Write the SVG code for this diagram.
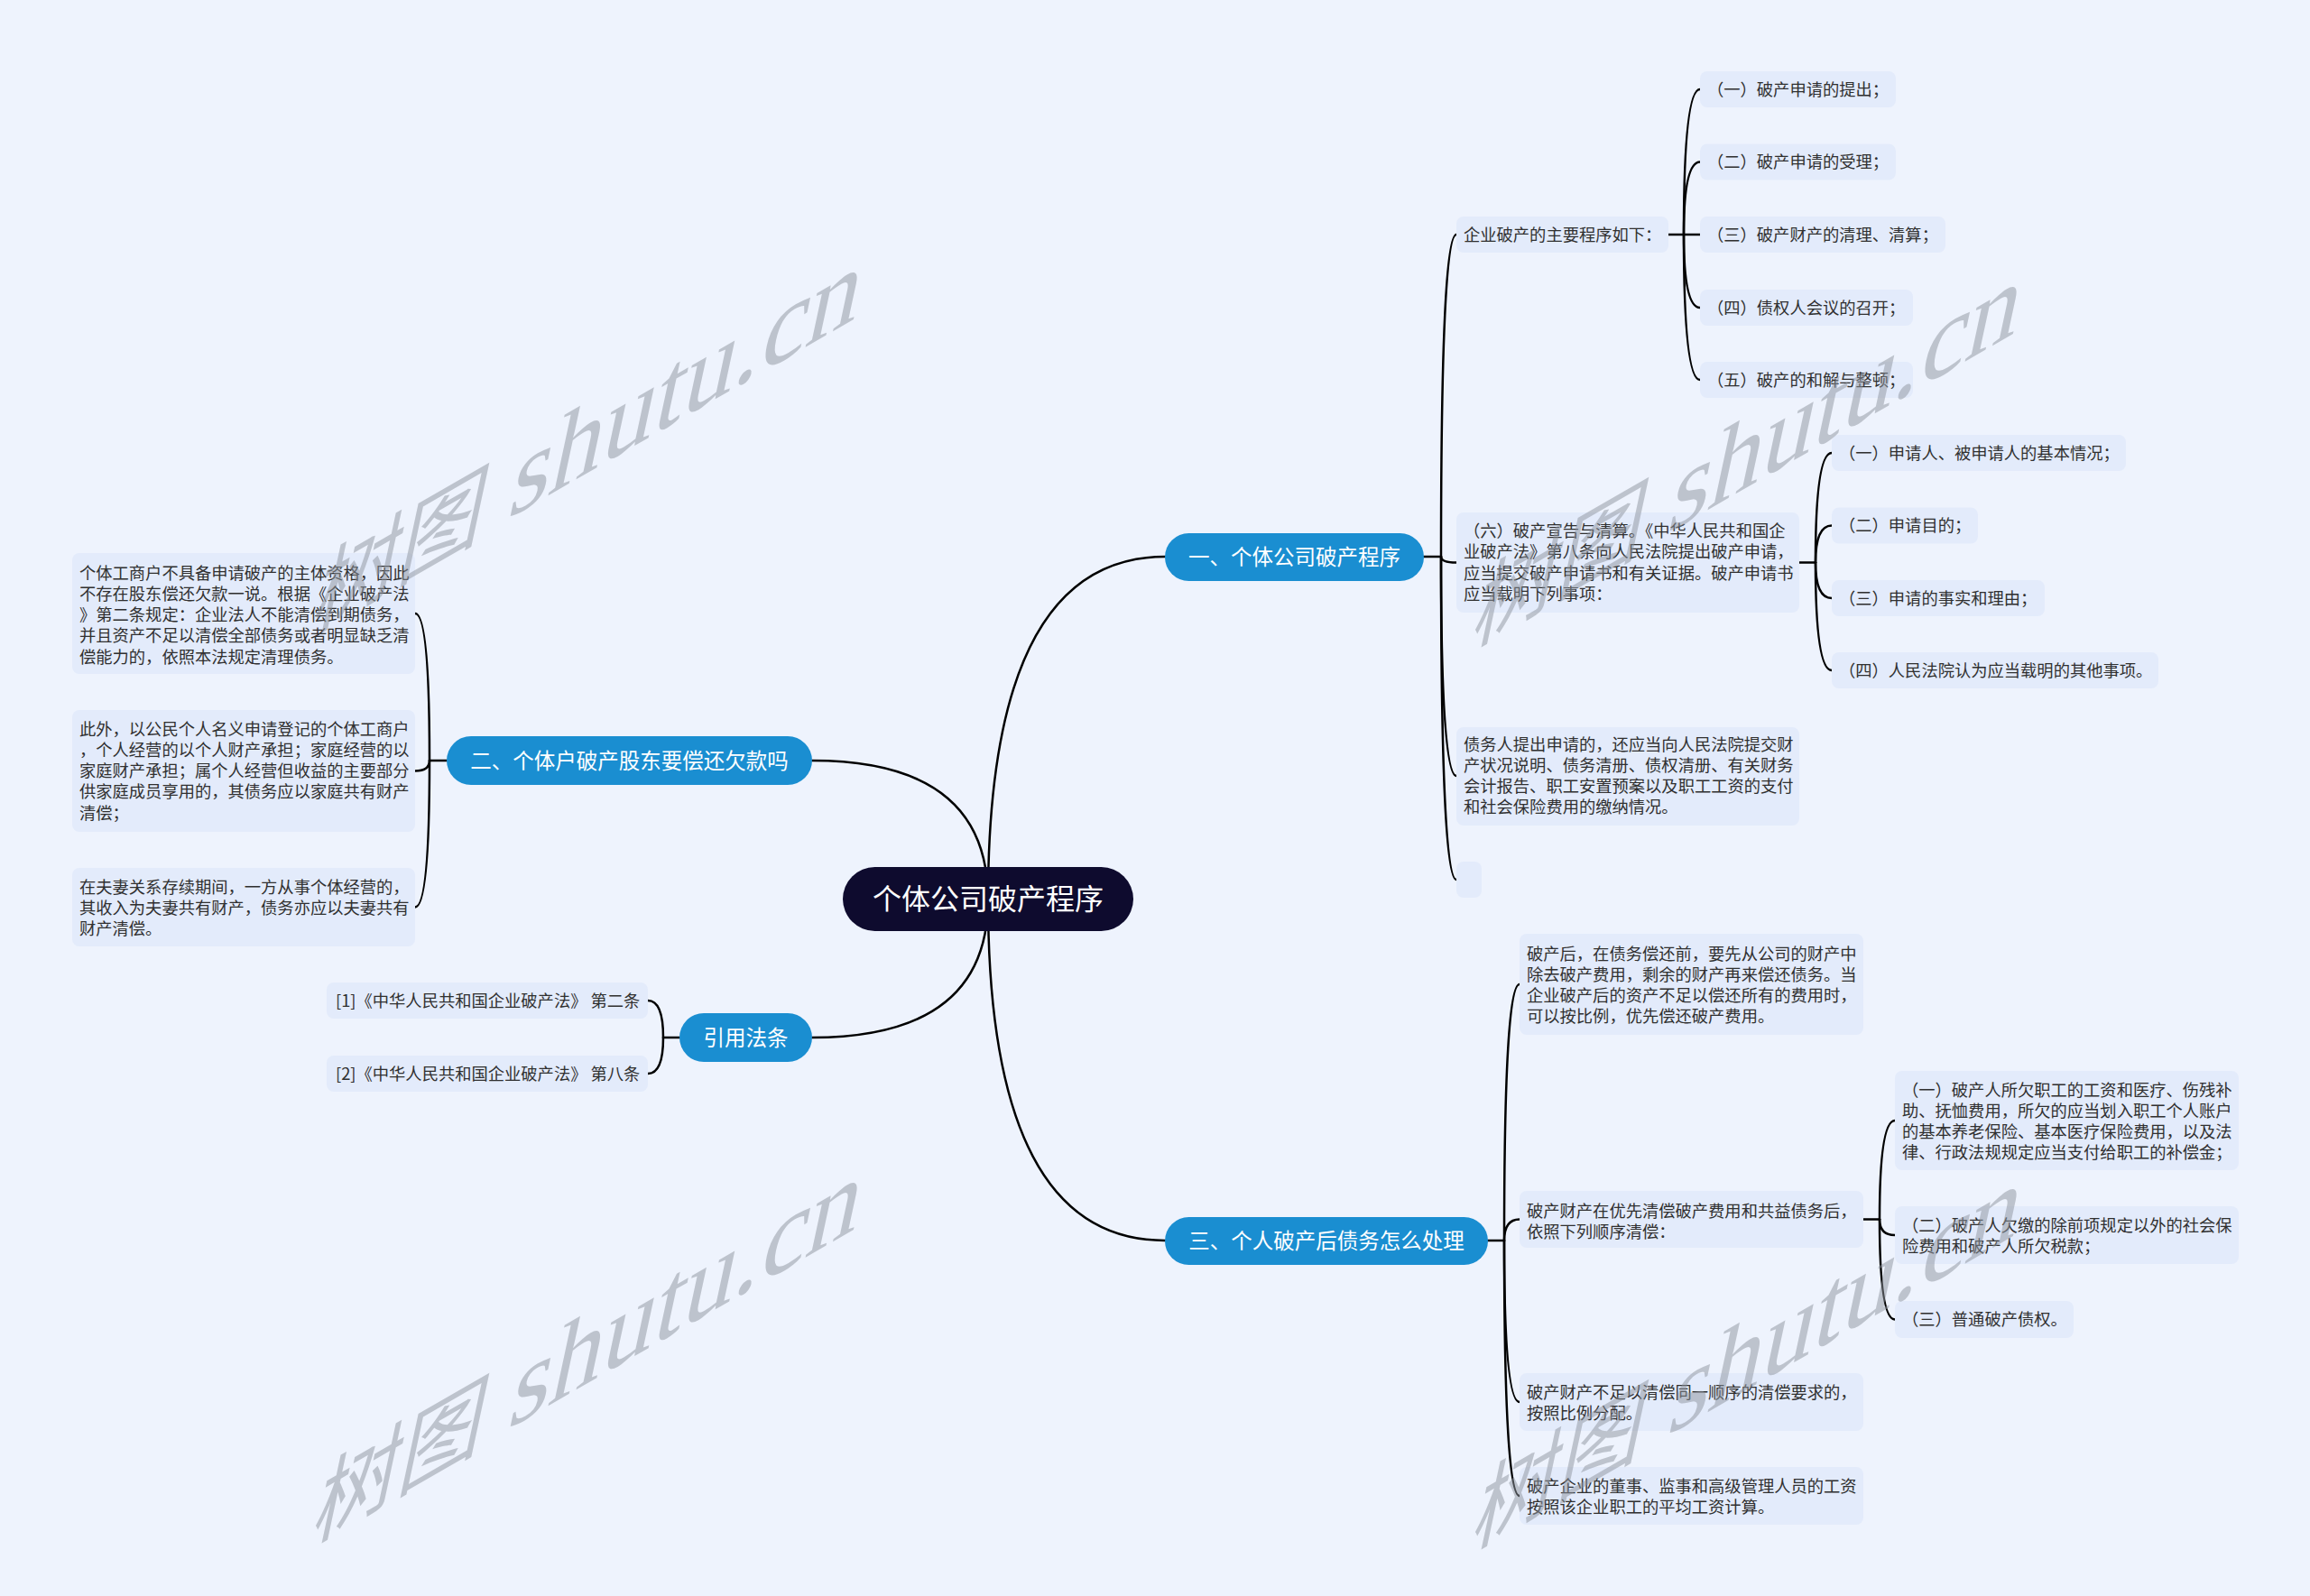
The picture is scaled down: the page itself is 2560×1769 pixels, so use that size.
<svg xmlns="http://www.w3.org/2000/svg" width="2560" height="1769" viewBox="0 0 2560 1769">
<style>
.bg{fill:#EEF3FD}
.box{fill:#E3EBFB}
.t{font-family:"Noto Sans CJK SC","Noto Sans",sans-serif;font-size:18.3px;fill:#303030}
.br{fill:#1A8ED1}
.bt{font-family:"Noto Sans CJK SC","Noto Sans",sans-serif;font-size:23.5px;fill:#FFFFFF;text-anchor:middle}
.rt{font-family:"Noto Sans CJK SC","Noto Sans",sans-serif;font-size:32px;fill:#FFFFFF;text-anchor:middle}
.ln{fill:none;stroke:#000;stroke-width:2.5;stroke-linecap:round}
.wm{font-family:"Liberation Serif","Noto Sans CJK SC",serif;fill:#8E949E;opacity:0.5}
</style>
<rect class="bg" x="0" y="0" width="2560" height="1769"/>

<g id="connectors">
  <path class="ln" d="M1095,997 Q1095,617 1291,617"/>
  <path class="ln" d="M1095,997 Q1095,843 900,843"/>
  <path class="ln" d="M1095,997 Q1095,1375 1291,1375"/>
  <path class="ln" d="M1095,997 Q1095,1150 900,1150"/>

  <path class="ln" d="M1578,617 H1597"/>
  <path class="ln" d="M1597,617 Q1597,260 1614,260"/>
  <path class="ln" d="M1597,617 Q1597,623.5 1614,623.5"/>
  <path class="ln" d="M1597,617 Q1597,860 1614,860"/>
  <path class="ln" d="M1597,617 Q1597,975 1614,975"/>

  <path class="ln" d="M1849,260 H1866"/>
  <path class="ln" d="M1866,260 Q1866,99 1884,99"/>
  <path class="ln" d="M1866,260 Q1866,179.5 1884,179.5"/>
  <path class="ln" d="M1866,260 L1884,260"/>
  <path class="ln" d="M1866,260 Q1866,341 1884,341"/>
  <path class="ln" d="M1866,260 Q1866,421 1884,421"/>

  <path class="ln" d="M1994,623.5 H2012"/>
  <path class="ln" d="M2012,623.5 Q2012,502 2030,502"/>
  <path class="ln" d="M2012,623.5 Q2012,582.5 2030,582.5"/>
  <path class="ln" d="M2012,623.5 Q2012,663 2030,663"/>
  <path class="ln" d="M2012,623.5 Q2012,743 2030,743"/>

  <path class="ln" d="M495,843 H476"/>
  <path class="ln" d="M476,843 Q476,680 460,680"/>
  <path class="ln" d="M476,843 Q476,854.5 460,854.5"/>
  <path class="ln" d="M476,843 Q476,1005.5 460,1005.5"/>

  <path class="ln" d="M753,1150 H735"/>
  <path class="ln" d="M735,1150 Q735,1109 718,1109"/>
  <path class="ln" d="M735,1150 Q735,1190 718,1190"/>

  <path class="ln" d="M1649,1375 H1667"/>
  <path class="ln" d="M1667,1375 Q1667,1091 1684,1091"/>
  <path class="ln" d="M1667,1375 Q1667,1351.5 1684,1351.5"/>
  <path class="ln" d="M1667,1375 Q1667,1554 1684,1554"/>
  <path class="ln" d="M1667,1375 Q1667,1658 1684,1658"/>

  <path class="ln" d="M2065,1351.5 H2083"/>
  <path class="ln" d="M2083,1351.5 Q2083,1242 2100,1242"/>
  <path class="ln" d="M2083,1351.5 Q2083,1369 2100,1369"/>
  <path class="ln" d="M2083,1351.5 Q2083,1462.5 2100,1462.5"/>
</g>

<g id="root">
  <rect x="934" y="961" width="322" height="71" rx="35.5" fill="#0E0B2E"/>
  <text class="rt" x="1095" y="1008">个体公司破产程序</text>
</g>

<g id="b1">
  <rect class="br" x="1291" y="591" width="287" height="53" rx="26.5"/>
  <text class="bt" x="1434.5" y="626">一、个体公司破产程序</text>
</g>
<g id="b2">
  <rect class="br" x="495" y="816" width="405" height="54" rx="27"/>
  <text class="bt" x="697.5" y="852">二、个体户破产股东要偿还欠款吗</text>
</g>
<g id="b3">
  <rect class="br" x="1291" y="1349" width="358" height="53" rx="26.5"/>
  <text class="bt" x="1470" y="1384">三、个人破产后债务怎么处理</text>
</g>
<g id="b4">
  <rect class="br" x="753" y="1123" width="147" height="54" rx="27"/>
  <text class="bt" x="826.5" y="1159">引用法条</text>
</g>

<g id="c1">
  <rect class="box" x="1614" y="240" width="235" height="40" rx="8"/>
  <text class="t" x="1622" y="266.5">企业破产的主要程序如下：</text>
</g>
<g id="c2">
  <rect class="box" x="1614" y="568" width="380" height="111" rx="8"/>
  <text class="t">
    <tspan x="1622" y="595">（六）破产宣告与清算。《中华人民共和国企</tspan>
    <tspan x="1622" y="618.3">业破产法》第八条向人民法院提出破产申请，</tspan>
    <tspan x="1622" y="641.6">应当提交破产申请书和有关证据。破产申请书</tspan>
    <tspan x="1622" y="664.9">应当载明下列事项：</tspan>
  </text>
</g>
<g id="c3">
  <rect class="box" x="1614" y="806" width="380" height="109" rx="8"/>
  <text class="t">
    <tspan x="1622" y="831.5">债务人提出申请的，还应当向人民法院提交财</tspan>
    <tspan x="1622" y="854.8">产状况说明、债务清册、债权清册、有关财务</tspan>
    <tspan x="1622" y="878.1">会计报告、职工安置预案以及职工工资的支付</tspan>
    <tspan x="1622" y="901.4">和社会保险费用的缴纳情况。</tspan>
  </text>
</g>
<g id="c4">
  <rect class="box" x="1614" y="955" width="28" height="40" rx="8"/>
</g>

<g id="g1"><rect class="box" x="1884" y="79" width="217" height="40" rx="8"/><text class="t" x="1892" y="105.5">（一）破产申请的提出；</text></g>
<g id="g2"><rect class="box" x="1884" y="159.5" width="217" height="40" rx="8"/><text class="t" x="1892" y="186">（二）破产申请的受理；</text></g>
<g id="g3"><rect class="box" x="1884" y="240" width="272" height="40" rx="8"/><text class="t" x="1892" y="266.5">（三）破产财产的清理、清算；</text></g>
<g id="g4"><rect class="box" x="1884" y="321" width="236" height="40" rx="8"/><text class="t" x="1892" y="347.5">（四）债权人会议的召开；</text></g>
<g id="g5"><rect class="box" x="1884" y="401" width="236" height="40" rx="8"/><text class="t" x="1892" y="427.5">（五）破产的和解与整顿；</text></g>

<g id="h1"><rect class="box" x="2030" y="482" width="326" height="40" rx="8"/><text class="t" x="2038" y="508.5">（一）申请人、被申请人的基本情况；</text></g>
<g id="h2"><rect class="box" x="2030" y="562.5" width="162" height="40" rx="8"/><text class="t" x="2038" y="589">（二）申请目的；</text></g>
<g id="h3"><rect class="box" x="2030" y="643" width="236" height="40" rx="8"/><text class="t" x="2038" y="669.5">（三）申请的事实和理由；</text></g>
<g id="h4"><rect class="box" x="2030" y="723" width="362" height="40" rx="8"/><text class="t" x="2038" y="749.5">（四）人民法院认为应当载明的其他事项。</text></g>

<g id="l1">
  <rect class="box" x="80" y="613" width="380" height="134" rx="8"/>
  <text class="t">
    <tspan x="88" y="641.5">个体工商户不具备申请破产的主体资格，因此</tspan>
    <tspan x="88" y="664.8">不存在股东偿还欠款一说。根据《企业破产法</tspan>
    <tspan x="88" y="688.1">》第二条规定：企业法人不能清偿到期债务，</tspan>
    <tspan x="88" y="711.4">并且资产不足以清偿全部债务或者明显缺乏清</tspan>
    <tspan x="88" y="734.7">偿能力的，依照本法规定清理债务。</tspan>
  </text>
</g>
<g id="l2">
  <rect class="box" x="80" y="787" width="380" height="135" rx="8"/>
  <text class="t">
    <tspan x="88" y="814.5">此外，以公民个人名义申请登记的个体工商户</tspan>
    <tspan x="88" y="837.8">，个人经营的以个人财产承担；家庭经营的以</tspan>
    <tspan x="88" y="861.1">家庭财产承担；属个人经营但收益的主要部分</tspan>
    <tspan x="88" y="884.4">供家庭成员享用的，其债务应以家庭共有财产</tspan>
    <tspan x="88" y="907.7">清偿；</tspan>
  </text>
</g>
<g id="l3">
  <rect class="box" x="80" y="962" width="380" height="87" rx="8"/>
  <text class="t">
    <tspan x="88" y="989.5">在夫妻关系存续期间，一方从事个体经营的，</tspan>
    <tspan x="88" y="1012.8">其收入为夫妻共有财产，债务亦应以夫妻共有</tspan>
    <tspan x="88" y="1036.1">财产清偿。</tspan>
  </text>
</g>

<g id="r1"><rect class="box" x="362" y="1089" width="356" height="40" rx="8"/><text class="t" x="372" y="1115.5">[1]《中华人民共和国企业破产法》 第二条</text></g>
<g id="r2"><rect class="box" x="362" y="1170" width="356" height="40" rx="8"/><text class="t" x="372" y="1196.5">[2]《中华人民共和国企业破产法》 第八条</text></g>

<g id="k1">
  <rect class="box" x="1684" y="1035" width="381" height="112" rx="8"/>
  <text class="t">
    <tspan x="1692" y="1063.5">破产后，在债务偿还前，要先从公司的财产中</tspan>
    <tspan x="1692" y="1086.8">除去破产费用，剩余的财产再来偿还债务。当</tspan>
    <tspan x="1692" y="1110.1">企业破产后的资产不足以偿还所有的费用时，</tspan>
    <tspan x="1692" y="1133.4">可以按比例，优先偿还破产费用。</tspan>
  </text>
</g>
<g id="k2">
  <rect class="box" x="1684" y="1320" width="381" height="63" rx="8"/>
  <text class="t">
    <tspan x="1692" y="1348.5">破产财产在优先清偿破产费用和共益债务后，</tspan>
    <tspan x="1692" y="1371.8">依照下列顺序清偿：</tspan>
  </text>
</g>
<g id="k3">
  <rect class="box" x="1684" y="1522" width="381" height="64" rx="8"/>
  <text class="t">
    <tspan x="1692" y="1549.5">破产财产不足以清偿同一顺序的清偿要求的，</tspan>
    <tspan x="1692" y="1572.8">按照比例分配。</tspan>
  </text>
</g>
<g id="k4">
  <rect class="box" x="1684" y="1626" width="381" height="64" rx="8"/>
  <text class="t">
    <tspan x="1692" y="1653.5">破产企业的董事、监事和高级管理人员的工资</tspan>
    <tspan x="1692" y="1676.8">按照该企业职工的平均工资计算。</tspan>
  </text>
</g>

<g id="m1">
  <rect class="box" x="2100" y="1187" width="381" height="110" rx="8"/>
  <text class="t">
    <tspan x="2108" y="1214.5">（一）破产人所欠职工的工资和医疗、伤残补</tspan>
    <tspan x="2108" y="1237.8">助、抚恤费用，所欠的应当划入职工个人账户</tspan>
    <tspan x="2108" y="1261.1">的基本养老保险、基本医疗保险费用，以及法</tspan>
    <tspan x="2108" y="1284.4">律、行政法规规定应当支付给职工的补偿金；</tspan>
  </text>
</g>
<g id="m2">
  <rect class="box" x="2100" y="1337" width="381" height="64" rx="8"/>
  <text class="t">
    <tspan x="2108" y="1364.5">（二）破产人欠缴的除前项规定以外的社会保</tspan>
    <tspan x="2108" y="1387.8">险费用和破产人所欠税款；</tspan>
  </text>
</g>
<g id="m3"><rect class="box" x="2100" y="1442" width="198" height="41" rx="8"/><text class="t" x="2108" y="1469">（三）普通破产债权。</text></g>

<g id="watermarks">
  <text class="wm" transform="matrix(0.866,-0.5,-0.21,0.978,343,702)"><tspan font-size="109">树图</tspan><tspan font-size="133"> shutu.cn</tspan></text>
  <text class="wm" transform="matrix(0.866,-0.5,-0.21,0.978,1628,718)"><tspan font-size="109">树图</tspan><tspan font-size="133"> shutu.cn</tspan></text>
  <text class="wm" transform="matrix(0.866,-0.5,-0.21,0.978,343,1711)"><tspan font-size="109">树图</tspan><tspan font-size="133"> shutu.cn</tspan></text>
  <text class="wm" transform="matrix(0.866,-0.5,-0.21,0.978,1628,1718)"><tspan font-size="109">树图</tspan><tspan font-size="133"> shutu.cn</tspan></text>
</g>
</svg>
